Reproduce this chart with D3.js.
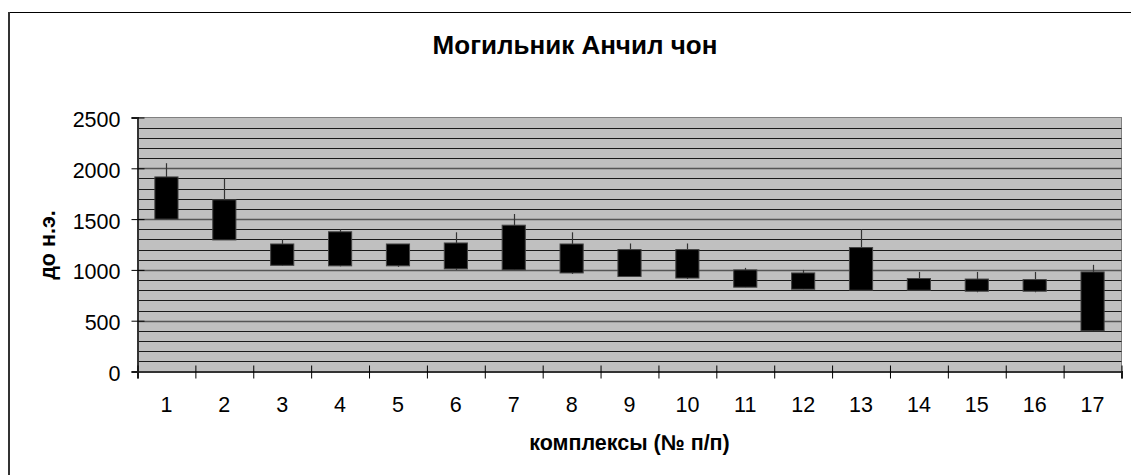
<!DOCTYPE html>
<html>
<head>
<meta charset="utf-8">
<script src="https://cdn.jsdelivr.net/npm/d3@7"></script>
<style>
  body { margin: 0; background: #fff; }
  svg { display: block; font-family: "Liberation Sans", Arial, sans-serif; }
</style>
</head>
<body>
<svg id="chart" width="1131" height="475"></svg>
<script>
// ---- data ----
const categories = ["1","2","3","4","5","6","7","8","9","10","11","12","13","14","15","16","17"];
const highValues  = [2050,1900,1300,1400,1250,1370,1550,1370,1260,1260,1020,1000,1400,980,980,980,1050];
const boxTop      = [1915,1690,1255,1375,1255,1265,1440,1255,1200,1200,1000,970,1220,915,910,905,980];
const boxBottom   = [1500,1295,1045,1040,1040,1010,1000,970,935,920,830,810,800,800,790,790,400];
const lowValues   = [1500,1295,1040,1035,1030,1000,1000,960,930,910,830,810,800,800,780,780,400];
const yTicks      = [0,500,1000,1500,2000,2500];
const titleText   = "Могильник Анчил чон";
const xTitle      = "комплексы (№ п/п)";
const yTitle      = "до н.э.";

// ---- layout ----
const svg = d3.select("#chart");
const pLeft = 137.5, pRight = 1121.5, pTop = 117.5, pBottom = 371.5;
const FONT = "Liberation Sans, Arial, sans-serif";

// outer chart border (extends beyond the picture at right/bottom)
svg.append("rect").attr("x", 8.5).attr("y", 12.5).attr("width", 1140).attr("height", 480)
  .attr("fill", "#fff").attr("stroke", "#000").attr("stroke-width", 1);
svg.append("line").attr("x1", 9).attr("x2", 9).attr("y1", 12).attr("y2", 475)
  .attr("stroke", "#333").attr("stroke-width", 2);

const x = d3.scaleBand().domain(categories).range([pLeft, pRight]).padding(0);
const xb = d3.scaleLinear().domain([0, categories.length]).range([pLeft, pRight]);
const y = d3.scaleLinear().domain([0, 2500]).range([pBottom, pTop]);

// plot background
svg.append("rect").attr("x", pLeft).attr("y", pTop).attr("width", pRight - pLeft).attr("height", pBottom - pTop)
  .attr("fill", "#c0c0c0").attr("stroke", "#808080").attr("stroke-width", 1);

// gridlines every 100
const gridVals = d3.range(100, 2500, 100);
svg.append("g").selectAll("line").data(gridVals).join("line")
  .attr("x1", pLeft).attr("x2", pRight)
  .attr("y1", d => Math.round(y(d)) + 0.5).attr("y2", d => Math.round(y(d)) + 0.5)
  .attr("stroke", d => d % 500 === 0 ? "#555" : "#1a1a1a")
  .attr("stroke-width", d => d % 500 === 0 ? 1.6 : 1);

// Y axis (cross ticks)
const yAxis = svg.append("g").attr("transform", `translate(${pLeft},0)`)
  .call(d3.axisLeft(y).tickValues(yTicks).tickFormat(d3.format("d")).tickSize(6).tickPadding(11));
yAxis.select(".domain").attr("stroke", "#333").attr("stroke-width", 2);
yAxis.selectAll(".tick line").attr("stroke", "#000");
yAxis.selectAll("text").attr("font-size", 21.5).attr("fill", "#000").attr("dy", "0.42em")
  .attr("font-family", FONT);
const yIn = svg.append("g").attr("transform", `translate(${pLeft},0)`)
  .call(d3.axisRight(y).tickValues(yTicks).tickSize(7).tickFormat(""));
yIn.select(".domain").remove();
yIn.selectAll(".tick line").attr("stroke", "#000");

// X axis boundary ticks (cross)
const xTicksG = svg.append("g").attr("transform", `translate(0,${pBottom})`)
  .call(d3.axisBottom(xb).tickValues(d3.range(0, categories.length + 1)).tickSize(7).tickFormat(""));
xTicksG.select(".domain").attr("stroke", "#333").attr("stroke-width", 2);
xTicksG.selectAll(".tick line").attr("stroke", "#000").attr("y1", -6);
// X labels
const xLab = svg.append("g").attr("transform", `translate(0,${pBottom})`)
  .call(d3.axisBottom(x).tickSize(0).tickPadding(25));
xLab.select(".domain").remove();
xLab.selectAll("text").attr("font-size", 21.5).attr("fill", "#000")
  .attr("font-family", FONT);

// high-low lines
const idx = d3.range(categories.length);
const barW = x.bandwidth() * 0.4;
svg.append("g").selectAll("line").data(idx).join("line")
  .attr("x1", i => Math.round(x(categories[i]) + x.bandwidth() / 2) + 0.5)
  .attr("x2", i => Math.round(x(categories[i]) + x.bandwidth() / 2) + 0.5)
  .attr("y1", i => y(highValues[i])).attr("y2", i => y(lowValues[i]))
  .attr("stroke", "#333").attr("stroke-width", 1.2);

// boxes
svg.append("g").selectAll("rect").data(idx).join("rect")
  .attr("x", i => x(categories[i]) + (x.bandwidth() - barW) / 2)
  .attr("width", barW)
  .attr("y", i => y(boxTop[i]))
  .attr("height", i => y(boxBottom[i]) - y(boxTop[i]))
  .attr("fill", "#000").attr("stroke", "#444").attr("stroke-width", 1);

// titles
svg.append("text").attr("x", 575).attr("y", 54).attr("text-anchor", "middle")
  .attr("font-size", 26).attr("font-weight", "bold").text(titleText);
svg.append("text").attr("x", (pLeft + pRight) / 2).attr("y", 450).attr("text-anchor", "middle")
  .attr("font-size", 21.5).attr("font-weight", "bold").text(xTitle);
svg.append("text").attr("transform", `translate(55,245) rotate(-90)`).attr("text-anchor", "middle")
  .attr("font-size", 21.5).attr("font-weight", "bold").text(yTitle);
</script>
</body>
</html>
